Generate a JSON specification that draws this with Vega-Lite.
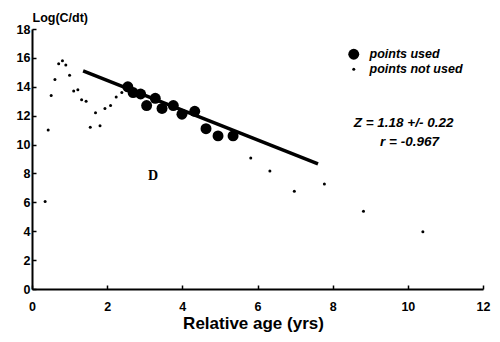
{
  "$schema": "https://vega.github.io/schema/vega-lite/v6.json",
  "width": 451,
  "height": 260,
  "autosize": {"type": "none"},
  "padding": {"left": 32, "top": 29, "right": 17, "bottom": 53},
  "background": "white",
  "config": {
    "view": {"stroke": null},
    "font": "Liberation Sans",
    "axis": {
      "domainColor": "black",
      "domainWidth": 2,
      "tickColor": "black",
      "tickWidth": 1.5,
      "grid": false,
      "labelFont": "Liberation Sans",
      "labelFontWeight": "bold",
      "labelFontSize": 12.5,
      "labelColor": "black",
      "labelOverlap": false,
      "labelSeparation": 0,
      "titleColor": "black",
      "titleFont": "Liberation Sans",
      "titleFontWeight": "bold"
    }
  },
  "datasets": {
    "pts": [
      {"age": 0.35, "logc": 6.05, "type": "points not used"},
      {"age": 0.43, "logc": 11.0, "type": "points not used"},
      {"age": 0.51, "logc": 13.4, "type": "points not used"},
      {"age": 0.61, "logc": 14.5, "type": "points not used"},
      {"age": 0.71, "logc": 15.6, "type": "points not used"},
      {"age": 0.81, "logc": 15.8, "type": "points not used"},
      {"age": 0.90, "logc": 15.5, "type": "points not used"},
      {"age": 1.00, "logc": 14.8, "type": "points not used"},
      {"age": 1.11, "logc": 13.7, "type": "points not used"},
      {"age": 1.22, "logc": 13.8, "type": "points not used"},
      {"age": 1.32, "logc": 13.1, "type": "points not used"},
      {"age": 1.44, "logc": 13.0, "type": "points not used"},
      {"age": 1.55, "logc": 11.2, "type": "points not used"},
      {"age": 1.69, "logc": 12.2, "type": "points not used"},
      {"age": 1.81, "logc": 11.3, "type": "points not used"},
      {"age": 1.94, "logc": 12.5, "type": "points not used"},
      {"age": 2.09, "logc": 12.7, "type": "points not used"},
      {"age": 2.24, "logc": 13.3, "type": "points not used"},
      {"age": 2.39, "logc": 13.6, "type": "points not used"},
      {"age": 5.82, "logc": 9.07, "type": "points not used"},
      {"age": 6.33, "logc": 8.17, "type": "points not used"},
      {"age": 6.98, "logc": 6.77, "type": "points not used"},
      {"age": 7.78, "logc": 7.27, "type": "points not used"},
      {"age": 8.82, "logc": 5.38, "type": "points not used"},
      {"age": 10.40, "logc": 3.97, "type": "points not used"},
      {"age": 2.55, "logc": 14.0, "type": "points used"},
      {"age": 2.69, "logc": 13.6, "type": "points used"},
      {"age": 2.89, "logc": 13.5, "type": "points used"},
      {"age": 3.05, "logc": 12.7, "type": "points used"},
      {"age": 3.28, "logc": 13.2, "type": "points used"},
      {"age": 3.46, "logc": 12.5, "type": "points used"},
      {"age": 3.76, "logc": 12.7, "type": "points used"},
      {"age": 3.99, "logc": 12.1, "type": "points used"},
      {"age": 4.33, "logc": 12.3, "type": "points used"},
      {"age": 4.63, "logc": 11.1, "type": "points used"},
      {"age": 4.95, "logc": 10.6, "type": "points used"},
      {"age": 5.35, "logc": 10.6, "type": "points used"}
    ],
    "fit": [
      {"age": 1.36, "logc": 15.1},
      {"age": 7.61, "logc": 8.66}
    ],
    "notes": [
      {"age": 8.56, "logc": 11.5, "text": "Z = 1.18 +/- 0.22"},
      {"age": 9.26, "logc": 10.18, "text": "r = -0.967"}
    ],
    "panel": [
      {"age": 3.22, "logc": 7.8, "text": "D"}
    ]
  },
  "encoding": {
    "x": {
      "field": "age", "type": "quantitative",
      "scale": {"domain": [0, 12], "nice": false},
      "axis": {
        "values": [0, 2, 4, 6, 8, 10, 12],
        "title": "Relative age (yrs)",
        "titleFontSize": 17,
        "titleX": 221,
        "titleY": 34,
        "titleBaseline": "middle",
        "labelFlush": false,
        "labelOverlap": false,
        "tickSize": -4,
        "labelPadding": 15
      }
    },
    "y": {
      "field": "logc", "type": "quantitative",
      "scale": {"domain": [0, 18], "nice": false},
      "axis": {
        "values": [0, 2, 4, 6, 8, 10, 12, 14, 16, 18],
        "title": "Log(C/dt)",
        "titleFontSize": 12.5,
        "titleAngle": 0,
        "titleAlign": "left",
        "titleBaseline": "middle",
        "titleX": 0,
        "titleY": -12,
        "labelOverlap": false,
        "tickSize": -4,
        "labelPadding": 6
      }
    }
  },
  "layer": [
    {
      "data": {"name": "pts"},
      "mark": {"type": "circle", "opacity": 1, "color": "black"},
      "encoding": {
        "size": {
          "field": "type", "type": "nominal",
          "scale": {"domain": ["points used", "points not used"], "range": [120, 9]},
          "legend": {
            "title": null,
            "orient": "none",
            "legendX": 315.5,
            "legendY": 19,
            "padding": 0,
            "labelFont": "Liberation Sans",
            "labelFontStyle": "italic",
            "labelFontWeight": "bold",
            "labelFontSize": 12.5,
            "labelColor": "black",
            "labelOffset": 9.5,
            "rowPadding": 2,
            "symbolType": "circle",
            "symbolFillColor": "black",
            "symbolStrokeWidth": 0,
            "symbolOpacity": 1
          }
        }
      }
    },
    {
      "data": {"name": "fit"},
      "mark": {"type": "line", "color": "black", "strokeWidth": 3.5},
      "encoding": {}
    },
    {
      "data": {"name": "notes"},
      "mark": {"type": "text", "align": "left", "baseline": "middle", "font": "Liberation Sans", "fontStyle": "italic", "fontWeight": "bold", "fontSize": 13.5, "color": "black"},
      "encoding": {
        "text": {"field": "text"}
      }
    },
    {
      "data": {"name": "panel"},
      "mark": {"type": "text", "align": "center", "baseline": "middle", "font": "Liberation Serif", "fontWeight": "bold", "fontSize": 14, "color": "black"},
      "encoding": {
        "text": {"field": "text"}
      }
    }
  ]
}
